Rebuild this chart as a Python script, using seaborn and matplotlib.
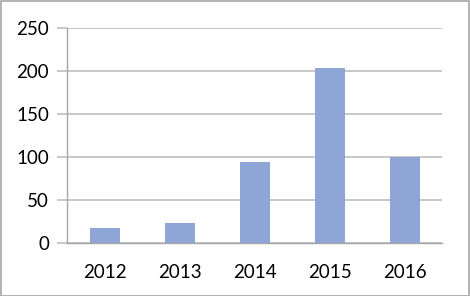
import matplotlib
matplotlib.use("Agg")
import matplotlib.pyplot as plt
import seaborn as sns
import pandas as pd
from matplotlib.patches import Rectangle

years = ["2012", "2013", "2014", "2015", "2016"]
values = [18, 23, 94, 203, 100]
yticks = [0, 50, 100, 150, 200, 250]

sns.set_style("white")
plt.rcParams['font.family'] = ['Lato', 'DejaVu Sans']

W, H = 470, 296
fig = plt.figure(figsize=(W/100, H/100), dpi=100)
ax = fig.add_axes([67/W, 1-243/H, (442-67)/W, (243-28)/H])

df = pd.DataFrame({"year": years, "value": values})
sns.barplot(data=df, x="year", y="value", color="#8EA5D5", saturation=1,
            width=0.4, ax=ax, zorder=3, linewidth=0)

ax.set_ylim(0, 250)
ax.set_xlim(-0.5, 4.5)
ax.set_yticks(yticks)
ax.set_yticklabels([str(v) for v in yticks])
ax.set_xlabel("")
ax.set_ylabel("")
ax.yaxis.grid(True, color="#BFBFBF", linewidth=1.2, zorder=0)
ax.set_axisbelow(True)
for s in ["top", "right"]:
    ax.spines[s].set_visible(False)
ax.spines["left"].set_color("#A6A6A6")
ax.spines["bottom"].set_color("#A6A6A6")
ax.spines["left"].set_linewidth(1.0)
ax.spines["bottom"].set_linewidth(1.0)

# x ticks at category boundaries
ax.set_xticks([-0.5, 0.5, 1.5, 2.5, 3.5, 4.5], minor=True)
ax.tick_params(axis="x", which="minor", length=6, color="#A6A6A6", width=1.0, direction="out")
ax.tick_params(axis="x", which="major", length=0, labelsize=13.5, pad=15)
ax.tick_params(axis="y", which="major", length=7, color="#BFBFBF", width=1.2, labelsize=13.5, pad=6, direction="out")
ax.tick_params(left=True)
for lbl in ax.get_xticklabels() + ax.get_yticklabels():
    lbl.set_color("#000000")

fig.patches.append(Rectangle((0.5/W, 0.5/H), 1-1.5/W, 1-1.5/H, transform=fig.transFigure,
                             fill=False, edgecolor="#A6A6A6", linewidth=1.2))

fig.savefig("out.png", dpi=100)
